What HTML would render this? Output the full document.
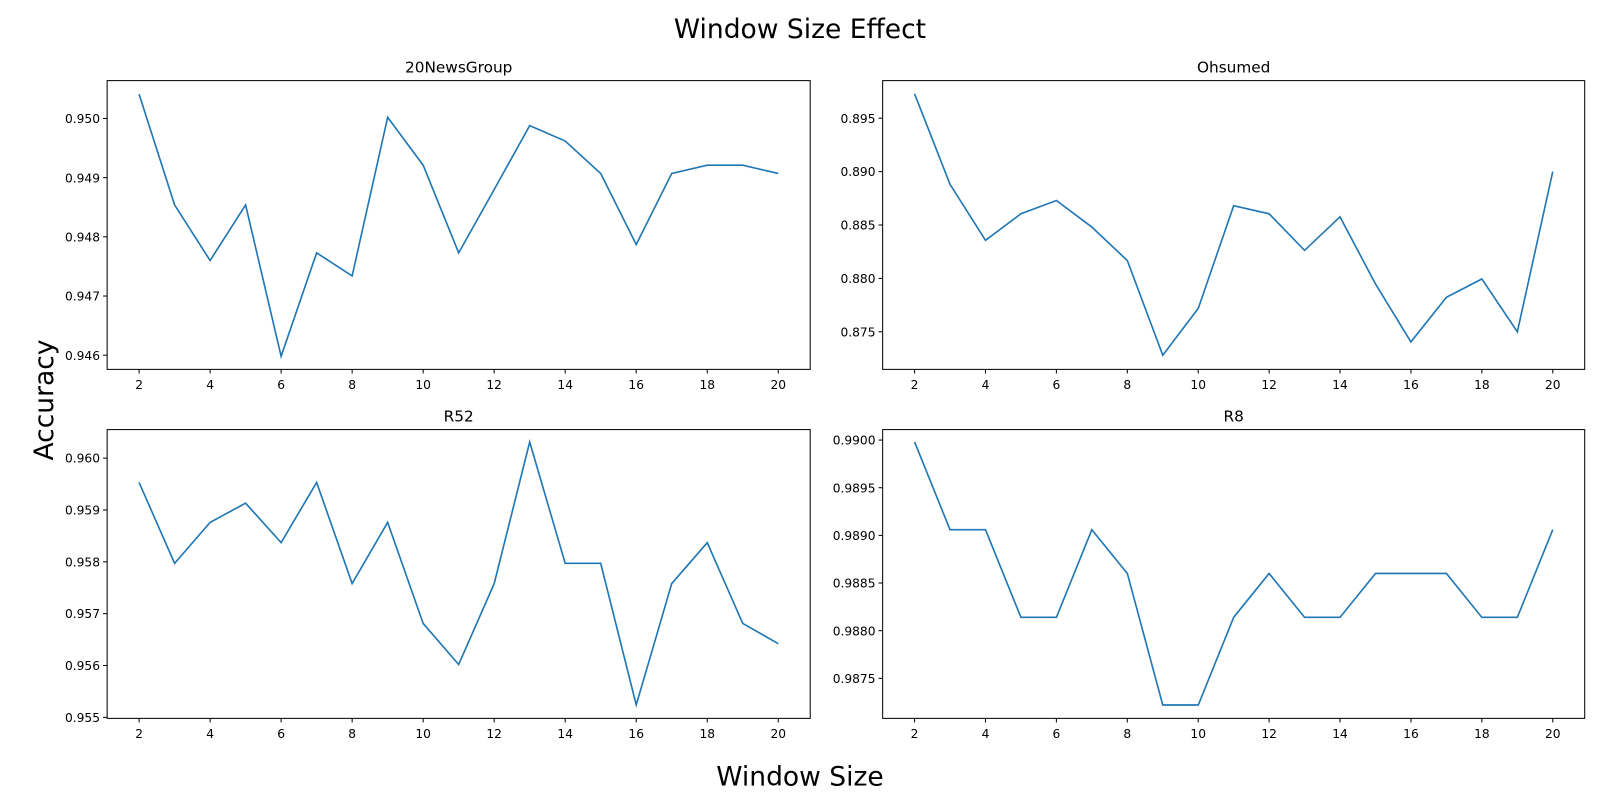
<!DOCTYPE html>
<html><head><meta charset="utf-8"><style>
body{margin:0;background:#fff}
svg{display:block;font-family:"DejaVu Sans","Liberation Sans",sans-serif}
</style></head><body>
<svg id="fig" width="1600" height="800" viewBox="0 0 1568 784">
<text x="784" y="37" font-size="26" text-anchor="middle">Window Size Effect</text>
<text x="784" y="770" font-size="26" text-anchor="middle">Window Size</text>
<text x="0" y="0" font-size="26" text-anchor="middle" transform="translate(52,392) rotate(-90)">Accuracy</text>
</svg>
<script>
const windowSizes=[2,3,4,5,6,7,8,9,10,11,12,13,14,15,16,17,18,19,20];
const news20=[0.95041,0.94854,0.94760,0.94854,0.94598,0.94773,0.94734,0.95002,0.94921,0.94773,0.94880,0.94988,0.94962,0.94907,0.94787,0.94907,0.94921,0.94921,0.94907];
const ohsumed=[0.89729,0.88881,0.88357,0.88605,0.88729,0.88481,0.88167,0.87281,0.87719,0.88681,0.88605,0.88262,0.88576,0.87948,0.87405,0.87824,0.87995,0.87500,0.89000];
const r52=[0.95953,0.95797,0.95876,0.95913,0.95837,0.95953,0.95758,0.95876,0.95681,0.95602,0.95758,0.96031,0.95797,0.95797,0.95524,0.95758,0.95837,0.95681,0.95642];
const r8=[0.98998,0.98906,0.98906,0.98814,0.98814,0.98906,0.98860,0.98722,0.98722,0.98814,0.98860,0.98814,0.98814,0.98860,0.98860,0.98860,0.98814,0.98814,0.98906];
const xTicks=[2,4,6,8,10,12,14,16,18,20];
const ticks1=[0.946,0.947,0.948,0.949,0.950];
const ticks2=[0.875,0.880,0.885,0.890,0.895];
const ticks3=[0.955,0.956,0.957,0.958,0.959,0.960];
const ticks4=[0.9875,0.9880,0.9885,0.9890,0.9895,0.9900];
const NS="http://www.w3.org/2000/svg";
const svg=document.getElementById('fig');
function mk(t,a,p){const e=document.createElementNS(NS,t);for(const k in a)e.setAttribute(k,a[k]);(p||svg).appendChild(e);return e;}
const panels=[
 {name:'20newsgroup',title:'20NewsGroup',data:news20,ticks:ticks1,dec:3,x0:105,x1:794,y0:79,y1:362,ymin:0.94576,ymax:0.95064},
 {name:'ohsumed',title:'Ohsumed',data:ohsumed,ticks:ticks2,dec:3,x0:865,x1:1553,y0:79,y1:362,ymin:0.87148,ymax:0.89852},
 {name:'r52',title:'R52',data:r52,ticks:ticks3,dec:3,x0:105,x1:794,y0:421,y1:704,ymin:0.95498,ymax:0.96055},
 {name:'r8',title:'R8',data:r8,ticks:ticks4,dec:4,x0:865,x1:1553,y0:421,y1:704,ymin:0.98708,ymax:0.99011}
];
panels.forEach(p=>{
 const g=mk('g',{});
 
 
 const xs=v=>p.x0+(v-1.1)/(20.9-1.1)*(p.x1-p.x0);
 const ys=v=>p.y1-(v-p.ymin)/(p.ymax-p.ymin)*(p.y1-p.y0);
 const t=mk('text',{x:(p.x0+p.x1)/2,y:p.y0-8,'font-size':15,'text-anchor':'middle'},g);
 t.textContent=p.title;
 
 
 xTicks.forEach(v=>{
  const x=xs(v);
  mk('line',{x1:x,x2:x,y1:p.y1,y2:p.y1+4,stroke:'#000','stroke-width':1},g);
  const l=mk('text',{x:x,y:p.y1+19,'font-size':12,'text-anchor':'middle'},g);
  l.textContent=v;
  
  
 });
 p.ticks.forEach(v=>{
  const y=ys(v);
  mk('line',{x1:p.x0-4,x2:p.x0,y1:y,y2:y,stroke:'#000','stroke-width':1},g);
  const l=mk('text',{x:p.x0-7,y:y+4.5,'font-size':12,'text-anchor':'end'},g);
  l.textContent=v.toFixed(p.dec);
  
  
 });
 const pts=windowSizes.map((w,i)=>xs(w).toFixed(1)+','+ys(p.data[i]).toFixed(1)).join(' ');
 const line=mk('polyline',{points:pts,fill:'none',stroke:'#1f77b4','stroke-width':1.6},g);
 
 
 const fr=mk('rect',{x:p.x0,y:p.y0,width:p.x1-p.x0,height:p.y1-p.y0,fill:'none',stroke:'#000','stroke-width':1},g);
 
 
});
</script>
</body></html>
